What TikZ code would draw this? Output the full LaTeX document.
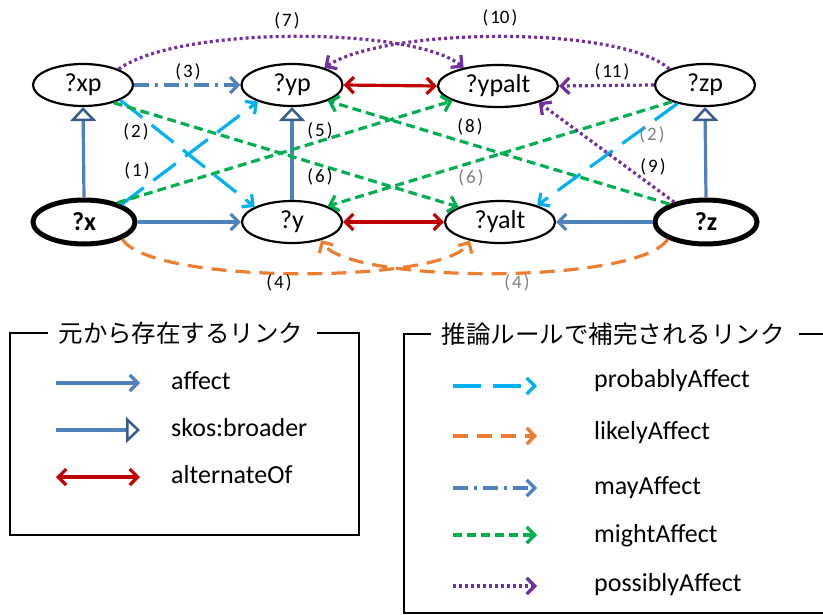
\documentclass[tikz,border=0pt]{standalone}
\usepackage{fontspec}
\setmainfont{Carlito}
\newfontfamily\jpfont{Noto Sans CJK JP}
\usetikzlibrary{arrows.meta,shapes.geometric}
\definecolor{cblue}{HTML}{4F81BD}
\definecolor{cdark}{HTML}{385D8A}
\definecolor{cred}{HTML}{C00000}
\definecolor{ccyan}{HTML}{00B0F0}
\definecolor{corange}{HTML}{ED7D31}
\definecolor{cgreen}{HTML}{00B050}
\definecolor{cpurple}{HTML}{7030A0}
\definecolor{cgrey}{HTML}{808080}
\tikzset{
  nd/.style={ellipse, draw, line width=2.2pt, inner sep=0pt, minimum width=100pt, minimum height=42pt, font=\fontsize{26}{30}\selectfont},
  boldnd/.style={nd, line width=5pt, minimum height=44pt, font=\fontsize{26}{30}\selectfont\bfseries},
  barb/.tip={Straight Barb[length=8pt,width=16pt]},
  lnk/.style={line width=3.2pt},
  affect/.style={lnk, draw=cblue, -barb},
  broader/.style={lnk, draw=cblue, -{Triangle[color=cdark, fill=white, length=14pt, width=26pt, line width=2.5pt]}},
  alt/.style={lnk, draw=cred, barb-barb},
  probably/.style={lnk, draw=ccyan, dash pattern=on 28pt off 12pt, -barb},
  likely/.style={lnk, draw=corange, dash pattern=on 15pt off 9pt, -barb},
  may/.style={lnk, draw=cblue, dash pattern=on 15pt off 6pt on 3pt off 6pt, -barb},
  might/.style={lnk, draw=cgreen, dash pattern=on 9pt off 5pt, -barb},
  possibly/.style={lnk, draw=cpurple, dash pattern=on 3pt off 3pt, -barb},
  lbl/.style={font=\fontsize{19}{21}\selectfont, inner sep=0pt},
  glbl/.style={lbl, text=cgrey},
  leg/.style={anchor=west, font=\fontsize{26}{30}\selectfont, inner sep=0pt},
  ttl/.style={font=\jpfont\fontsize{24.5}{28}\selectfont, inner sep=0pt},
  frame/.style={line width=2pt, draw=black}
}
\newcommand{\pl}[1]{(\kern2pt#1\kern2pt)}
\begin{document}
\begin{tikzpicture}[x=1pt,y=-1pt]
\useasboundingbox (0,0) rectangle (823,615);
% nodes
\node[nd] (xp) at (83,85) {?xp};
\node[nd, minimum width=101pt] (yp) at (292,85) {?yp};
\node[nd, minimum width=120pt] (ypalt) at (498,86) {?ypalt};
\node[nd] (zp) at (705,85) {?zp};
\node[boldnd, minimum width=102pt] (x) at (84,222) {?x};
\node[nd] (y) at (292,222) {?y};
\node[nd, minimum width=110pt] (yalt) at (500,222) {?yalt};
\node[boldnd, minimum width=102pt] (z) at (706,222) {?z};
% existing links
\draw[broader] (x.north) -- (xp.south);
\draw[broader] (y.north) -- (yp.south);
\draw[broader] (z.north) -- (zp.south);
\draw[affect] (x.east) -- (y.west);
\draw[affect] (z.west) -- (yalt.east);
\draw[alt] (yp.east) -- (ypalt.west);
\draw[alt] (y.east) -- (yalt.west);
% inferred links
\draw[may] (xp.east) -- (yp.west);
\draw[probably] (x.25) -- (yp.206);
\draw[probably] (xp.-22) -- (y.158);
\draw[might] (xp.-30) -- (yalt.160);
\draw[might] (x.30) -- (ypalt.198);
\draw[might] (z.154) -- (yp.-24);
\draw[might] (zp.207) -- (y.24);
\draw[probably] (zp.214) -- (yalt.24);
\draw[possibly] (z.148) -- (ypalt.-22);
\draw[possibly] (zp.west) -- (ypalt.east);
\draw[possibly] (xp.24) .. controls (180,25) and (415,27) .. (ypalt.152);
\draw[possibly] (zp.156) .. controls (622,25) and (385,27) .. (yp.28);
\draw[likely] (x.-24) .. controls (150,285) and (445,284) .. (yalt.212);
\draw[likely] (z.204) .. controls (640,285) and (347,284) .. (y.-32);
% labels
\node[lbl] (l1) at (137,171) {\pl{1}};
\node[lbl] (l2) at (136,132) {\pl{2}};
\node[lbl] (l3) at (188,72) {\pl{3}};
\node[lbl] (l4) at (279,283) {\pl{4}};
\node[glbl] (l4g) at (517,283) {\pl{4}};
\node[lbl] (l5) at (320,131) {\pl{5}};
\node[lbl] (l6) at (320,177) {\pl{6}};
\node[glbl] (l6g) at (471,178) {\pl{6}};
\node[lbl] (l7) at (287,21) {\pl{7}};
\node[lbl] (l8) at (470,127) {\pl{8}};
\node[lbl] (l9) at (653,167) {\pl{9}};
\node[glbl] (l2g) at (652,135) {\pl{2}};
\node[lbl] (l10) at (500,18) {\pl{10}};
\node[lbl] (l11) at (612,72) {\pl{11}};
% legend left
\node[ttl] (t1) at (181,333) {元から存在するリンク};
\draw[frame] ([xshift=-10pt]t1.west |- 0,333) -- (10,333) -- (10,535) -- (359,535) -- (359,333) -- ([xshift=13pt]t1.east |- 0,333);
\coordinate (a1) at (56,383); \coordinate (b1) at (140,383);
\coordinate (a2) at (56,430); \coordinate (b2) at (140,430);
\coordinate (a3) at (56,477); \coordinate (b3) at (140,477);
\draw[affect] (a1) -- (b1);
\draw[broader] (a2) -- (b2);
\draw[alt] (a3) -- (b3);
\node[leg] (e1) at (171,381) {affect};
\node[leg] (e2) at (171,428) {skos:broader};
\node[leg] (e3) at (171,475) {alternateOf};
% legend right
\node[ttl] (t2) at (613,334) {推論ルールで補完されるリンク};
\draw[frame] ([xshift=-10pt]t2.west |- 0,334) -- (404,334) -- (404,613) -- (830,613);
\draw[frame] ([xshift=14pt]t2.east |- 0,334) -- (830,334);
\coordinate (c1) at (453,386); \coordinate (d1) at (537,386);
\coordinate (c2) at (453,436); \coordinate (d2) at (537,436);
\coordinate (c3) at (453,488); \coordinate (d3) at (537,488);
\coordinate (c4) at (453,535); \coordinate (d4) at (537,535);
\coordinate (c5) at (453,586); \coordinate (d5) at (537,586);
\draw[probably] (c1) -- (d1);
\draw[likely] (c2) -- (d2);
\draw[may] (c3) -- (d3);
\draw[might] (c4) -- (d4);
\draw[possibly] (c5) -- (d5);
\node[leg] (f1) at (594,381) {probablyAffect};
\node[leg] (f2) at (594,433) {likelyAffect};
\node[leg] (f3) at (594,488) {mayAffect};
\node[leg] (f4) at (594,536) {mightAffect};
\node[leg] (f5) at (594,585) {possiblyAffect};
\end{tikzpicture}
\end{document}
